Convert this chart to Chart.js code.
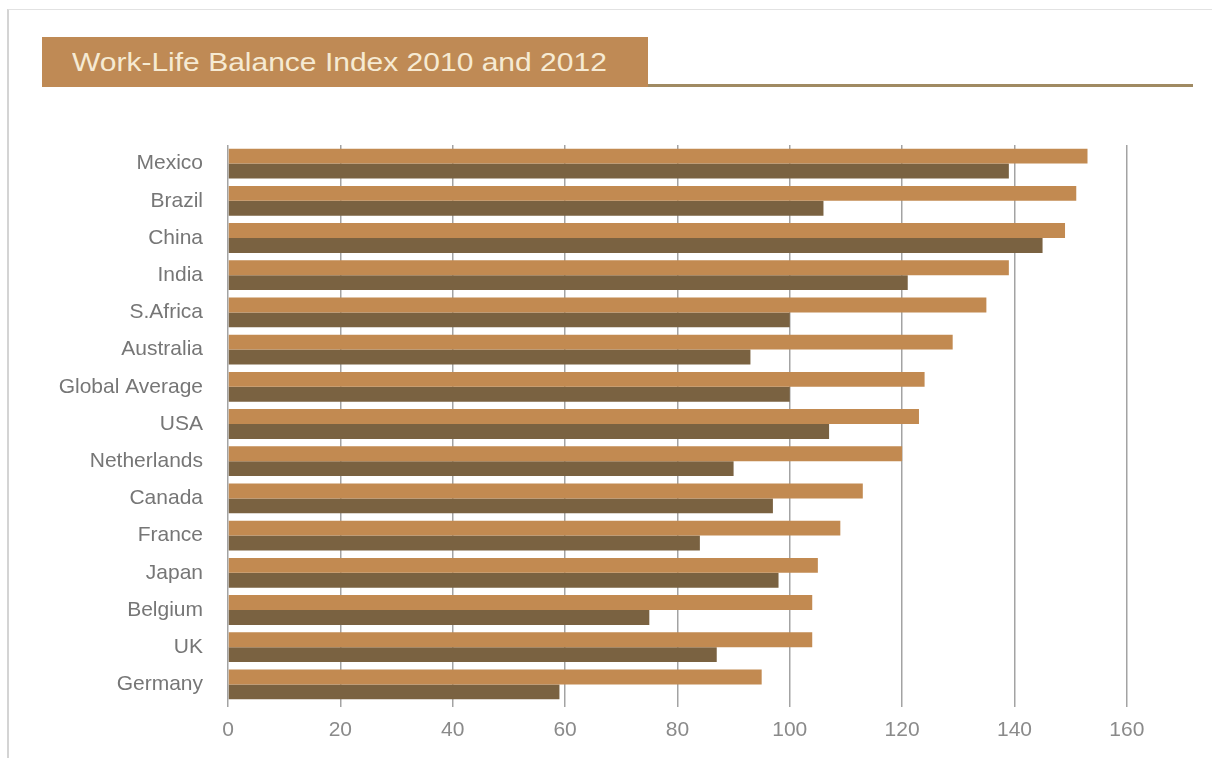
<!DOCTYPE html>
<html>
<head>
<meta charset="utf-8">
<script src="https://cdn.jsdelivr.net/npm/chart.js@4"></script>
<style>
  html, body { margin: 0; padding: 0; background: #fff; }
  #frame { position: absolute; left: 7px; top: 9px; width: 1203px; height: 748px; border-left: 2px solid #d4d4d4; border-top: 1px solid #e2e2e2; }
  #title { position: absolute; left: 42px; top: 37px; width: 606px; height: 50px; background: #bf8a55; color: #f6ead3;
           font-family: "Liberation Sans", Arial, sans-serif; font-size: 25px; line-height: 50px; box-sizing: border-box; padding-left: 30px; white-space: nowrap; }
  #title span { display: inline-block; transform: scaleX(1.2); transform-origin: left center; }
  #rule { position: absolute; left: 648px; top: 84px; width: 545px; height: 3px; background: #a08a62; }
  #wrap { position: absolute; left: 0; top: 0; width: 1216px; height: 762px; }
</style>
</head>
<body>
<div id="frame"></div>
<div id="title"><span>Work-Life Balance Index 2010 and 2012</span></div>
<div id="rule"></div>
<div id="wrap"><canvas id="chart"></canvas></div>
<script>
const countries = ['Mexico', 'Brazil', 'China', 'India', 'S.Africa', 'Australia', 'Global Average', 'USA',
                   'Netherlands', 'Canada', 'France', 'Japan', 'Belgium', 'UK', 'Germany'];
const index2012 = [153, 151, 149, 139, 135, 129, 124, 123, 120, 113, 109, 105, 104, 104, 95];
const index2010 = [139, 106, 145, 121, 100, 93, 100, 107, 90, 97, 84, 98, 75, 87, 59];
const xTicks = [0, 20, 40, 60, 80, 100, 120, 140, 160];

const ctx = document.getElementById('chart').getContext('2d');
new Chart(ctx, {
    type: 'bar',
    data: {
        labels: countries,
        datasets: [
            { label: '2012', data: index2012, backgroundColor: '#c28a51', categoryPercentage: 0.8, barPercentage: 1.0 },
            { label: '2010', data: index2010, backgroundColor: '#7a6241', categoryPercentage: 0.8, barPercentage: 1.0 }
        ]
    },
    options: {
        indexAxis: 'y',
        responsive: true, maintainAspectRatio: false, animation: false,
        layout: { padding: { top: 145, right: 33, bottom: 14, left: 0 } },
        scales: {
            x: {
                min: 0, max: 170,
                afterBuildTicks: (scale) => { scale.ticks = xTicks.map(v => ({ value: v })); },
                afterFit: (scale) => { scale.height = 45; },
                border: { display: false },
                grid: { color: '#a3a3a3', lineWidth: 1.5, drawTicks: true, tickLength: 4 },
                ticks: { color: '#8a8a8a', padding: 11, font: { family: 'Liberation Sans', size: 21 } }
            },
            y: {
                afterFit: (scale) => { scale.width = 228; },
                border: { display: false },
                grid: { display: false },
                ticks: { color: '#767676', padding: 17, font: { family: 'Liberation Sans', size: 21 } }
            }
        },
        plugins: { legend: { display: false }, tooltip: { enabled: false } }
    }
});
</script>
</body>
</html>
